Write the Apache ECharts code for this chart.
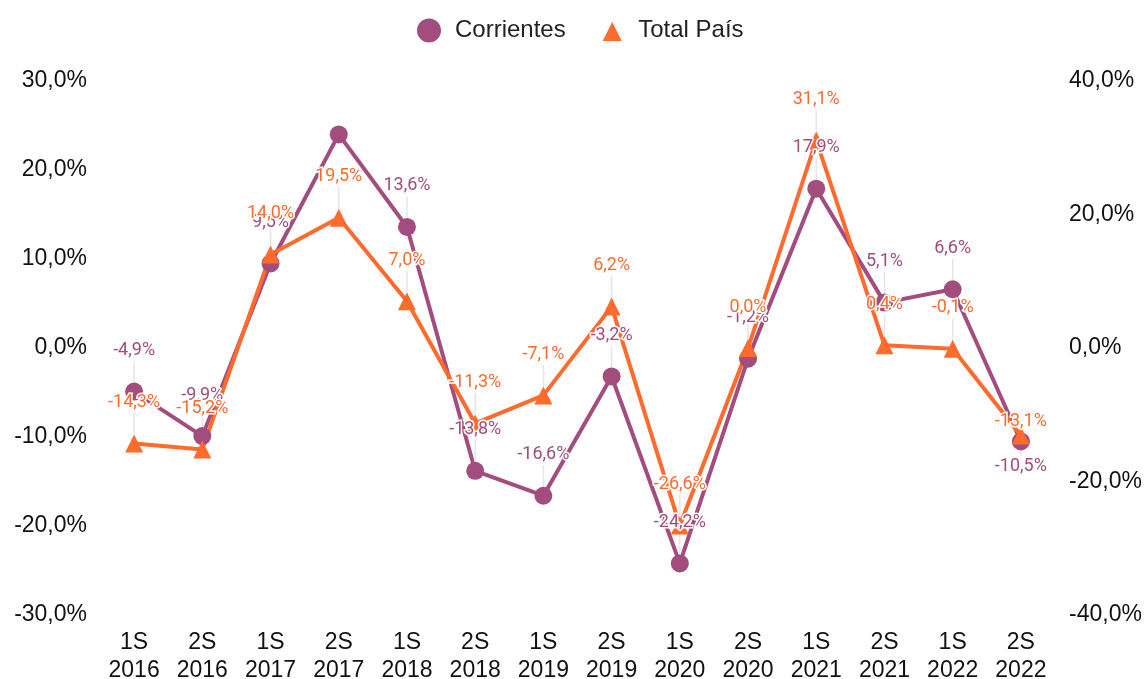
<!DOCTYPE html>
<html>
<head>
<meta charset="utf-8">
<script src="https://cdn.jsdelivr.net/npm/echarts@6/dist/echarts.min.js"></script>
<style>
  html, body { margin: 0; padding: 0; background: #fff; }
  #chart { width: 1145px; height: 679px; }
</style>
</head>
<body>
<div id="chart"></div>
<script>
// semestres
const categories = ['1S\n2016', '2S\n2016', '1S\n2017', '2S\n2017', '1S\n2018', '2S\n2018', '1S\n2019',
  '2S\n2019', '1S\n2020', '2S\n2020', '1S\n2021', '2S\n2021', '1S\n2022', '2S\n2022']
// variacion interanual (%)
const corrientes = [-4.9, -9.9, 9.5, 24.0, 13.6, -13.8, -16.6, -3.2, -24.2, -1.2, 17.9, 5.1, 6.6, -10.5]
const totalPais = [-14.3, -15.2, 14.0, 19.5, 7.0, -11.3, -7.1, 6.2, -26.6, 0.0, 31.1, 0.4, -0.1, -13.1]

const purple = '#a24d7e'
const orange = '#ff6b2c'
const axisFont = '"Liberation Sans", Arial, sans-serif'

const pct = v => v.toFixed(1).replace('.', ',') + '%'

const chart = echarts.init(document.getElementById('chart'))

chart.setOption({
  textStyle: { fontFamily: 'Roboto' },
  legend: {
    top: 12,
    left: 412,
    itemGap: 33,
    itemWidth: 24,
    itemHeight: 24,
    textStyle: { fontSize: 24, color: '#222', fontFamily: axisFont, padding: [0, 0, 0, 9] },
    data: [
      { name: 'Corrientes', icon: 'circle' },
      { name: 'Total País', icon: 'triangle', itemStyle: { borderColor: '#fff', borderWidth: 3 } }
    ]
  },
  grid: {
    left: 100,
    right: 90,
    top: 81,
    bottom: 64,
    outerBoundsMode: 'none'
  },
  xAxis: {
    type: 'category',
    data: categories,
    axisTick: { show: false },
    axisLine: { show: false },
    axisLabel: {
      color: '#111',
      fontSize: 23,
      lineHeight: 28,
      margin: 14,
      fontFamily: axisFont
    }
  },
  yAxis: [
    {
      type: 'value',
      min: -30,
      max: 30,
      interval: 10,
      splitLine: { show: false },
      axisLabel: { color: '#111', fontSize: 23, margin: 13, fontFamily: axisFont, formatter: v => pct(v) }
    },
    {
      type: 'value',
      min: -40,
      max: 40,
      interval: 20,
      splitLine: { show: false },
      axisLabel: { color: '#111', fontSize: 23, margin: 14, fontFamily: axisFont, formatter: v => pct(v) }
    }
  ],
  series: [
    {
      name: 'Corrientes',
      type: 'line',
      yAxisIndex: 0,
      symbol: 'circle',
      symbolSize: 18,
      color: purple,
      lineStyle: { width: 4 },
      data: corrientes.map((v, i) => (i === 3 ? { value: v, label: { show: false } } : v)),
      label: {
        show: true,
        position: 'top',
        distance: 5,
        fontSize: 18,
        color: purple,
        textBorderColor: '#fff',
        textBorderWidth: 3,
        formatter: p => pct(p.value)
      },
      labelLine: { show: true, lineStyle: { color: '#e6e6e6', width: 1.5 } },
      labelLayout: p => (p.dataIndex === corrientes.length - 1 ? { dy: 48 } : { dy: -18 })
    },
    {
      name: 'Total País',
      type: 'line',
      yAxisIndex: 1,
      symbol: 'triangle',
      symbolSize: 18,
      color: orange,
      lineStyle: { width: 4 },
      data: totalPais,
      label: {
        show: true,
        position: 'top',
        distance: 5,
        fontSize: 18,
        color: orange,
        textBorderColor: '#fff',
        textBorderWidth: 3,
        formatter: p => pct(p.value)
      },
      labelLine: { show: true, lineStyle: { color: '#e6e6e6', width: 1.5 } },
      labelLayout: p => (p.dataIndex === totalPais.length - 1 ? { dy: 9 } : { dy: -18 })
    }
  ]
})
</script>
</body>
</html>
